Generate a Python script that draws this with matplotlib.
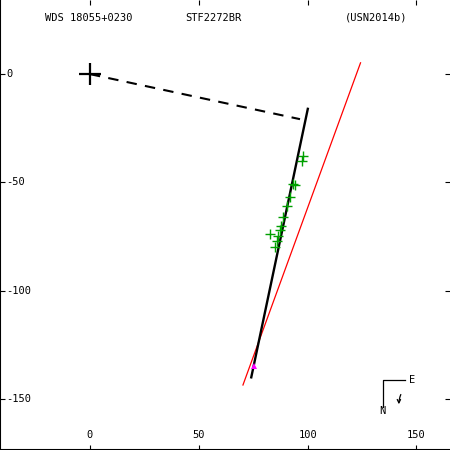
import matplotlib
matplotlib.use("Agg")
import matplotlib.pyplot as plt
from matplotlib.transforms import blended_transform_factory

# title strings
wds_name = "WDS 18055+0230"
disc_name = "STF2272BR"
ref_name = "(USN2014b)"

# measures (green crosses)
obs_x = [98.1, 97.2, 93.5, 94.2, 91.9, 90.7, 88.9, 88.0, 87.3, 82.7, 86.4, 85.9, 85.2]
obs_y = [-37.6, -39.9, -50.5, -51.2, -56.7, -60.9, -66.1, -70.1, -71.9, -73.6, -74.8, -77.1, -79.9]

# orbit track (very narrow ellipse, seen as a line)
orbit_x = [100.2, 74.0]
orbit_y = [-15.5, -140.5]

# line of nodes from primary
node_x = [0, 96.5]
node_y = [0, -20.8]

# red line
red_x = [70.3, 124.3]
red_y = [-143.5, 5.2]

# predicted position (magenta)
pred_x = [75.6]
pred_y = [-134.7]

xticks = [0, 50, 100, 150]
yticks = [0, -50, -100, -150]

fig = plt.figure(figsize=(4.5, 4.5), dpi=100)
ax = fig.add_axes([0, 0, 1, 1])
ax.set_xlim(-41.3, 165.4)
ax.set_ylim(-173.5, 34.2)

font = dict(family="DejaVu Sans Mono", fontsize=7.5, color="black")

ax.plot(red_x, red_y, color="#ff0000", lw=0.9)
ax.plot(node_x, node_y, color="black", lw=1.5, dashes=(5, 4))
ax.plot(orbit_x, orbit_y, color="black", lw=1.7, solid_capstyle="butt")
ax.plot(obs_x, obs_y, "+", color="#00a000", ms=7, mew=1.0)
ax.plot(pred_x, pred_y, "^", color="#ff00ff", ms=5, mew=0)
ax.plot([0], [0], "+", color="black", ms=16, mew=1.6)

ax.set_xticks(xticks)
ax.set_yticks(yticks)
ax.tick_params(direction="in", length=3.5, width=0.8, top=True, right=True,
               labelbottom=False, labelleft=False)

tx = blended_transform_factory(ax.transData, ax.transAxes)
for v in xticks:
    ax.text(v, 1 - 435 / 450, str(v), ha="center", va="center", transform=tx, **font)
ty = blended_transform_factory(ax.transAxes, ax.transData)
for v in yticks:
    ax.text(6 / 450, v, str(v), ha="left", va="center", transform=ty, **font)

# header
ax.text(45 / 450, 1 - 18 / 450, wds_name, transform=ax.transAxes, ha="left", va="center", **font)
ax.text(185 / 450, 1 - 18 / 450, disc_name, transform=ax.transAxes, ha="left", va="center", **font)
ax.text(345 / 450, 1 - 18 / 450, ref_name, transform=ax.transAxes, ha="left", va="center", **font)

# compass
def fp(px, py):
    return (px / 450, 1 - py / 450)

ax.plot([fp(383, 0)[0], fp(383, 0)[0], fp(405, 0)[0]],
        [fp(0, 407)[1], fp(0, 380)[1], fp(0, 380)[1]],
        color="black", lw=0.9, transform=ax.transAxes)
ax.text(*fp(409, 380), "E", transform=ax.transAxes, ha="left", va="center", **font)
ax.text(*fp(382, 411), "N", transform=ax.transAxes, ha="center", va="center", **font)
ax.annotate("", xy=fp(399, 407), xytext=fp(402, 392), xycoords="axes fraction",
            textcoords="axes fraction",
            arrowprops=dict(arrowstyle="->", lw=0.9, color="black",
                            connectionstyle="arc3,rad=0.15", mutation_scale=6))

ax.spines["top"].set_visible(False)
ax.spines["right"].set_visible(False)
for s in ax.spines.values():
    s.set_linewidth(1.5)

fig.savefig("out.png", dpi=100)
